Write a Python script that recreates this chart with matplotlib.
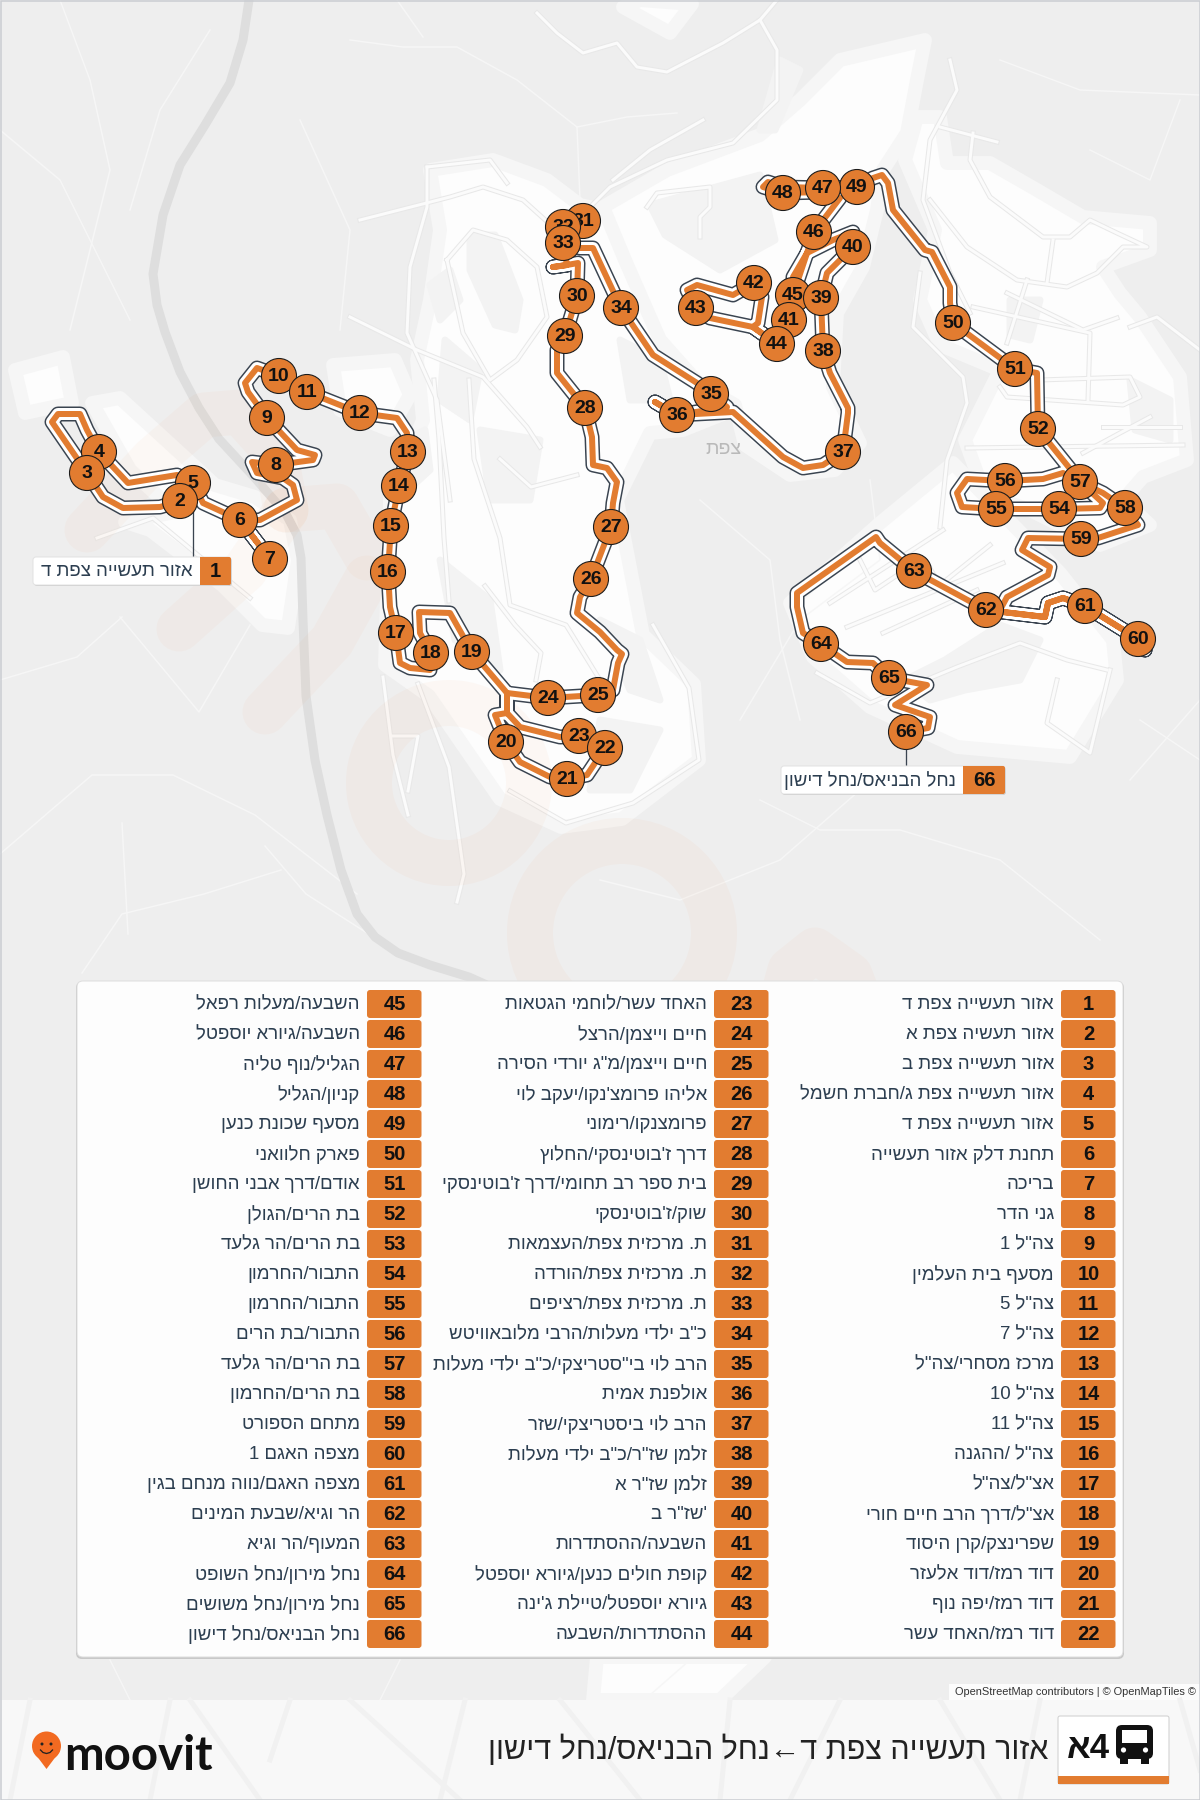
import re
import matplotlib
matplotlib.use('Agg')
from matplotlib import pyplot as plt
from matplotlib.patches import Circle, FancyBboxPatch, Polygon, Rectangle

plt.rcParams['font.family'] = ['Liberation Sans', 'DejaVu Sans']

ORANGE = '#e27c30'
DARK = '#3a4450'
INK = '#2c3e50'
PX = 0.72  # line widths are read in pixels, figure is 100 dpi

stop_names = [
    'אזור תעשייה צפת ד', 'אזור תעשיה צפת א', 'אזור תעשייה צפת ב', 'אזור תעשייה צפת ג/חברת חשמל',
    'אזור תעשייה צפת ד', 'תחנת דלק אזור תעשייה', 'בריכה', 'גני הדר', 'צה"ל 1', 'מסעף בית העלמין',
    'צה"ל 5', 'צה"ל 7', 'מרכז מסחרי/צה"ל', 'צה"ל 10', 'צה"ל 11', 'צה"ל /ההגנה', 'אצ"ל/צה"ל',
    'אצ"ל/דרך הרב חיים חורי', 'שפרינצק/קרן היסוד', 'דוד רמז/דוד אלעזר', 'דוד רמז/יפה נוף', 'דוד רמז/האחד עשר',
    'האחד עשר/לוחמי הגטאות', 'חיים וייצמן/הרצל', 'חיים וייצמן/מ"ג יורדי הסירה', "אליהו פרומצ'נקו/יעקב לוי",
    'פרומצנקו/רימוני', "דרך ז'בוטינסקי/החלוץ", "בית ספר רב תחומי/דרך ז'בוטינסקי", "שוק/ז'בוטינסקי",
    'ת. מרכזית צפת/העצמאות', 'ת. מרכזית צפת/הורדה', 'ת. מרכזית צפת/רציפים', 'כ"ב ילדי מעלות/הרבי מלובאוויטש',
    'הרב לוי בי"סטריצקי/כ"ב ילדי מעלות', 'אולפנת אמית', 'הרב לוי ביסטריצקי/שזר', 'זלמן שז"ר/כ"ב ילדי מעלות',
    'זלמן שז"ר א', '\'שז"ר ב', 'השבעה/ההסתדרות', 'קופת חולים כנען/גיורא יוספטל', "גיורא יוספטל/טיילת ג'ינה",
    'ההסתדרות/השבעה',
    'השבעה/מעלות רפאל', 'השבעה/גיורא יוספטל', 'הגליל/נוף טליה', 'קניון/הגליל', 'מסעף שכונת כנען', 'פארק חלוואני',
    'אודם/דרך אבני החושן', 'בת הרים/הגולן', 'בת הרים/הר גלעד', 'התבור/החרמון', 'התבור/החרמון', 'התבור/בת הרים',
    'בת הרים/הר גלעד', 'בת הרים/החרמון', 'מתחם הספורט', 'מצפה האגם 1', 'מצפה האגם/נווה מנחם בגין',
    'הר וגיא/שבעת המינים', 'המעוף/הר וגיא', 'נחל מירון/נחל השופט', 'נחל מירון/נחל משושים', 'נחל הבניאס/נחל דישון',
]

stop_no = [2, 3, 4, 5, 6, 7, 8, 9, 10, 11, 12, 13, 14, 15, 16, 17, 18, 19, 20, 21, 22, 23, 24, 25, 26, 27, 28, 29, 30,
           31, 32, 33, 34, 35, 36, 37, 38, 39, 40, 41, 42, 43, 44, 45, 46, 47, 48, 49, 50, 51, 52, 54, 55, 56, 57, 58,
           59, 60, 61, 62, 63, 64, 65, 66]
stop_x = [180, 87, 99, 193, 240, 270, 276, 267, 279, 307, 360, 408, 399, 391, 388, 396, 431, 472, 506, 567, 605, 579,
          548, 598, 591, 611, 585, 565, 577, 583, 563, 563, 621, 711, 677, 843, 823, 821, 853, 789, 754, 696, 777, 793,
          814, 823, 783, 857, 953, 1015, 1038, 1059, 996, 1005, 1080, 1125, 1081, 1138, 1085, 986, 914, 821, 889, 906]
stop_y = [501, 473, 452, 483, 520, 559, 465, 418, 376, 392, 413, 452, 486, 526, 572, 633, 653, 652, 742, 779, 748, 736,
          698, 695, 579, 527, 408, 336, 296, 221, 227, 243, 308, 394, 415, 452, 351, 298, 247, 320, 283, 308, 344, 295,
          232, 188, 193, 187, 323, 369, 429, 509, 509, 481, 482, 508, 539, 639, 606, 610, 571, 644, 678, 732]

route_x = [180, 160, 123, 103, 87, 52, 58, 80, 87, 99, 128, 177, 193, 203, 240, 270, 240, 260, 297, 293, 283, 257, 252,
           276, 313, 315, 297, 267, 248, 245, 257, 279, 307, 360, 397, 407, 408, 399, 391, 388, 390, 396, 400, 410, 430,
           431, 420, 419, 450, 472, 507, 507, 495, 506, 520, 550, 567, 587, 605, 579, 560, 520, 507, 507, 548, 598, 613,
           618, 622, 617, 600, 577, 580, 591, 611, 613, 617, 607, 593, 592, 585, 557, 557, 565, 577, 578, 567, 553, 567,
           563, 563, 583, 563, 563, 580, 593, 621, 653, 697, 711, 727, 677, 655, 677, 733, 783, 803, 823, 843, 848, 848,
           830, 823, 821, 827, 853, 853, 833, 807, 793, 793, 789, 777, 753, 710, 696, 687, 697, 733, 754, 762, 758, 753,
           777, 793, 814, 840, 823, 783, 763, 768, 783, 823, 857, 873, 882, 888, 893, 925, 932, 950, 950, 953, 1015, 1037,
           1038, 1075, 1080, 1063, 1043, 1005, 967, 957, 962, 996, 1059, 1100, 1103, 1080, 1103, 1125, 1138, 1098, 1081,
           1028, 1022, 1050, 1048, 1007, 1000, 986, 1003, 1045, 1048, 1063, 1085, 1138, 1145, 1138, 1085, 1063, 1048, 1045,
           1003, 986, 914, 880, 876, 797, 797, 803, 821, 847, 873, 889, 927, 895, 930, 928, 906]
route_y = [501, 507, 508, 497, 473, 422, 414, 414, 430, 452, 483, 475, 483, 503, 520, 559, 520, 520, 500, 485, 478, 473,
           462, 465, 460, 455, 450, 418, 392, 383, 368, 376, 392, 413, 418, 433, 452, 486, 526, 572, 607, 633, 663, 668,
           670, 653, 633, 612, 613, 652, 693, 713, 715, 742, 762, 777, 779, 775, 748, 736, 737, 727, 713, 693, 698, 695,
           690, 663, 654, 650, 632, 613, 597, 579, 527, 503, 482, 468, 465, 437, 408, 373, 350, 336, 296, 263, 265, 267,
           265, 243, 227, 221, 227, 243, 248, 248, 308, 355, 383, 394, 407, 415, 402, 415, 412, 457, 468, 465, 452, 413,
           408, 373, 351, 298, 273, 247, 232, 240, 253, 277, 295, 320, 344, 327, 318, 308, 290, 285, 295, 283, 297, 323,
           327, 344, 295, 232, 198, 192, 193, 187, 182, 187, 188, 187, 178, 175, 183, 210, 250, 252, 287, 303, 323, 369,
           373, 429, 475, 482, 473, 479, 481, 479, 493, 507, 509, 509, 508, 503, 482, 493, 508, 525, 538, 539, 538, 550,
           567, 575, 597, 610, 610, 612, 617, 603, 598, 606, 639, 650, 639, 606, 598, 603, 617, 612, 610, 571, 543, 537,
           593, 607, 633, 644, 662, 663, 678, 685, 705, 717, 728, 732]

city_blobs = [
    [(15, 370), (63, 357), (72, 403), (25, 413)],
    [(92, 403), (120, 398), (215, 485), (255, 497), (290, 520), (298, 560), (288, 628), (262, 625), (222, 585), (150, 530),
     (125, 522), (175, 512), (130, 470)],
    [(430, 170), (493, 160), (547, 180), (580, 205), (617, 213), (670, 300), (743, 353), (733, 410), (683, 430),
     (650, 433), (617, 500), (643, 635), (694, 684), (699, 760), (622, 819), (561, 827), (500, 799), (429, 696), (385, 665),
     (390, 499), (423, 420), (417, 360), (430, 300), (440, 230)],
    [(603, 207), (667, 170), (760, 135), (800, 100), (840, 60), (925, 40), (917, 80), (907, 133), (883, 170), (877, 210),
     (863, 267), (837, 313), (833, 387), (860, 443), (835, 470), (790, 475), (745, 445), (735, 405), (700, 385), (660, 340),
     (625, 260)],
    [(917, 117), (940, 117), (947, 163), (990, 163), (1037, 190), (1083, 217), (1150, 223), (1150, 250), (1103, 267),
     (1120, 293), (1140, 317), (1180, 377), (1187, 460), (1143, 477), (1123, 500), (1150, 525), (1100, 545), (1030, 510),
     (985, 495), (965, 440), (1000, 370), (940, 345), (920, 300), (935, 230), (905, 160)],
    [(880, 523), (953, 463), (1060, 573), (1113, 640), (1117, 680), (1070, 757), (957, 747), (870, 707), (813, 657), (790, 603)],
    [(333, 365), (395, 360), (410, 395), (390, 430), (340, 410)],
    [(623, 7), (670, 33), (692, 4), (640, 0)],
    [(597, 1657), (765, 1657), (720, 1700), (593, 1700)],
]
gray_patches = [
    [(470, 235), (495, 235), (520, 300), (515, 330), (495, 325), (470, 270)],
    [(650, 205), (760, 175), (775, 240), (720, 270), (665, 235)],
    [(1000, 625), (1040, 640), (1020, 680), (965, 690), (930, 700), (905, 680), (945, 660)],
    [(430, 285), (450, 270), (460, 300), (440, 320)],
    [(600, 620), (640, 640), (660, 700), (630, 690)],
    [(405, 440), (425, 430), (430, 470), (408, 490)],
    [(780, 60), (800, 70), (775, 130), (760, 130)],
    [(445, 340), (480, 370), (470, 420), (440, 400)],
    [(480, 430), (540, 440), (530, 500), (490, 500)],
    [(440, 560), (490, 600), (500, 670), (455, 640)],
    [(620, 340), (660, 360), (670, 400), (630, 400)],
    [(1010, 300), (1040, 300), (1030, 340), (1010, 335)],
    [(600, 720), (660, 730), (630, 790), (590, 790)],
    [(1130, 380), (1170, 400), (1170, 440), (1135, 430)],
]

highway = [(249, 0), (243, 40), (230, 83), (205, 125), (180, 165), (163, 215), (153, 274), (157, 305), (165, 332),
           (180, 372), (199, 408), (219, 439), (255, 478), (286, 514), (297, 535), (301, 558), (303, 620), (306, 696),
           (315, 760), (327, 815), (341, 870), (357, 914), (375, 937), (398, 953), (430, 965), (469, 977), (520, 1000)]

main_roads = [
    [(537, 13), (557, 33), (583, 53), (617, 43), (637, 67), (667, 72), (723, 43), (760, 20), (777, 0)],
    [(760, 20), (777, 50), (777, 100), (733, 143), (667, 160), (610, 187), (590, 207)],
    [(703, 120), (650, 150), (613, 180)],
    [(360, 220), (450, 197), (483, 187), (523, 200), (553, 227)],
    [(447, 260), (473, 230), (507, 240), (537, 267), (547, 317), (517, 360), (490, 380), (463, 333), (447, 260)],
    [(427, 167), (427, 207), (410, 267), (407, 333), (437, 400), (450, 500)],
    [(350, 317), (417, 350), (483, 377), (527, 427), (540, 447)],
    [(427, 167), (490, 160), (507, 183)],
    [(647, 207), (657, 193), (710, 187), (710, 207), (700, 217), (700, 237)],
    [(434, 380), (439, 439), (444, 538), (449, 601)],
    [(469, 380), (474, 459), (500, 538), (510, 605), (566, 625), (600, 680)],
    [(500, 459), (531, 487), (577, 475)],
    [(485, 586), (515, 625), (541, 653), (536, 680)],
    [(393, 736), (418, 736), (408, 791)],
    [(383, 677), (393, 755), (408, 815)],
    [(418, 684), (449, 767), (464, 874), (457, 902)],
    [(510, 791), (566, 823), (633, 803), (699, 760), (689, 688), (653, 625)],
    [(97, 538), (153, 518), (250, 598)],
    [(950, 60), (957, 90), (930, 140), (923, 200), (950, 273), (970, 313)],
    [(940, 127), (997, 142)],
    [(973, 133), (970, 160), (990, 197), (1043, 237), (1070, 237), (1090, 220), (1117, 233), (1147, 247), (1123, 247),
     (1097, 273), (1067, 287), (1017, 280), (967, 247), (930, 200)],
    [(1053, 240), (1047, 283)],
    [(1027, 280), (1007, 343)],
    [(1007, 293), (1083, 330), (1117, 318)],
    [(973, 307), (1090, 333), (1088, 400)],
    [(1130, 327), (1157, 317), (1200, 350)],
    [(1040, 380), (1130, 377), (1140, 397), (1123, 405), (1007, 397), (1000, 387)],
    [(920, 273), (913, 327), (963, 377), (967, 403), (947, 460), (940, 527)],
    [(967, 448), (1183, 445)],
    [(1103, 427), (1180, 427)],
    [(1083, 453), (1120, 433), (1150, 417)],
    [(830, 603), (943, 530)],
    [(847, 627), (1003, 563)],
    [(883, 633), (977, 590)],
    [(817, 673), (870, 703), (957, 667), (1020, 643), (1067, 660), (1107, 670)],
    [(1057, 680), (1047, 723), (1090, 753), (1110, 670)],
    [(860, 560), (875, 590), (905, 570), (925, 560), (940, 585), (965, 565), (990, 545)],
]
thin_roads = [
    [(350, 40), (403, 47), (457, 47), (517, 80), (577, 127), (580, 200)],
    [(577, 127), (627, 117), (677, 113)],
    [(397, 0), (423, 37)],
    [(120, 617), (199, 712), (250, 625)],
    [(0, 680), (77, 657), (122, 617)],
    [(0, 854), (92, 775), (173, 775), (255, 815), (357, 894)],
    [(122, 823), (128, 934)],
    [(265, 846), (306, 894), (367, 933)],
    [(82, 973), (122, 914), (204, 894), (281, 870)],
    [(0, 130), (60, 180), (100, 260), (130, 320)],
    [(60, 0), (90, 80), (110, 170), (70, 330)],
    [(210, 30), (160, 110), (130, 210)],
    [(300, 120), (350, 230), (340, 330)],
    [(1000, 60), (1080, 90), (1200, 95)],
    [(1180, 100), (1150, 180), (1090, 150)],
    [(1140, 720), (1200, 760)],
    [(700, 500), (770, 560), (780, 640), (800, 720)],
    [(760, 800), (820, 830), (900, 830), (1000, 860), (1100, 940)],
    [(600, 880), (680, 900), (780, 860), (860, 790)],
    [(1130, 780), (1200, 700)],
    [(870, 480), (880, 560), (800, 620), (740, 720)],
    [(110, 1660), (130, 1700)],
    [(400, 1660), (380, 1700)],
    [(690, 1660), (650, 1695), (700, 1695)],
]

watermark_bands = [
    [(87, 530), (153, 459), (204, 415), (240, 412), (275, 451), (286, 510)],
    [(179, 629), (245, 570), (286, 510)],
    [(286, 510), (337, 506), (367, 558)],
    [(265, 712), (332, 641), (367, 578)],
    [(765, 1060), (790, 970), (815, 950), (850, 975), (890, 1080)],
]
ring_x = [449, 622]
ring_y = [783, 933]
ring_r = [80, 92]

footer_lines = [
    [(30, 1700), (10, 1800)], [(170, 1700), (150, 1800)], [(190, 1700), (260, 1800)], [(290, 1700), (270, 1760)],
    [(350, 1700), (460, 1800)], [(465, 1700), (440, 1800)], [(560, 1700), (640, 1800)], [(730, 1700), (720, 1800)],
    [(840, 1700), (790, 1800)], [(940, 1700), (1000, 1800)], [(1040, 1700), (1020, 1800)], [(1180, 1700), (1200, 1770)],
]

columns = [(1061, 0), (714, 22), (367, 44)]


def visual(s):
    # matplotlib has no bidi, so reverse the hebrew and keep the digit runs readable
    return re.sub(r'[0-9]+', lambda m: m.group()[::-1], s[::-1])


def rbox(ax, x0, y0, x1, y1, fc, ec='none', r=3, z=20, **kw):
    box = FancyBboxPatch((x0 + r, y0 + r), x1 - x0 - 2 * r, y1 - y0 - 2 * r, boxstyle=f'round,pad={r}',
                         fc=fc, ec=ec, lw=PX, zorder=z, **kw)
    ax.add_patch(box)
    return box


fig = plt.figure(figsize=(12, 18), dpi=100, facecolor='#eeeeee')
ax = fig.add_axes([0, 0, 1, 1])
ax.set_xlim(0, 1200)
ax.set_ylim(1800, 0)
ax.axis('off')

for blob in city_blobs:
    ax.add_patch(Polygon(blob, closed=True, fc='#fdfdfd', ec='#f6f6f6', lw=10, joinstyle='round', zorder=1))
for patch in gray_patches:
    ax.add_patch(Polygon(patch, closed=True, fc='#f3f3f3', ec='#f3f3f3', lw=5, joinstyle='round', zorder=1.5))

for road in thin_roads:
    ax.plot(*zip(*road), color='#f6f6f6', lw=1.5 * PX, zorder=2)
for road in main_roads:
    ax.plot(*zip(*road), color='#e8e8e8', lw=5 * PX, zorder=2.1, solid_joinstyle='round')
for road in main_roads:
    ax.plot(*zip(*road), color='#fbfbfb', lw=3 * PX, zorder=2.2, solid_joinstyle='round')
ax.plot(*zip(*highway), color='#dedede', lw=9 * PX, zorder=2.3, solid_joinstyle='round')

for band in watermark_bands:
    ax.plot(*zip(*band), color='#ef7b2d', alpha=0.035, lw=45 * PX, zorder=3, solid_capstyle='round', solid_joinstyle='round')
for x, y, r in zip(ring_x, ring_y, ring_r):
    ax.add_patch(Circle((x, y), r, fc='none', ec='#ef7b2d', alpha=0.04, lw=46 * PX, zorder=3))

ax.text(723, 450, visual('צפת'), fontsize=14, color='#b9b9b9', ha='center', va='center', zorder=4)

# route casing, then the coloured line
ax.plot(route_x, route_y, color=DARK, lw=15 * PX, solid_joinstyle='round', solid_capstyle='round', zorder=5)
ax.plot(route_x, route_y, color='white', lw=12 * PX, solid_joinstyle='round', solid_capstyle='round', zorder=6)
ax.plot(route_x, route_y, color=ORANGE, lw=6 * PX, solid_joinstyle='round', solid_capstyle='round', zorder=7)

# callout leaders sit under the stops
ax.plot([193, 193], [505, 557], color=DARK, lw=1.3 * PX, zorder=7.5)
ax.plot([906, 906], [745, 766], color=DARK, lw=1.3 * PX, zorder=7.5)

# southern stops are painted last, like the tiles
order = sorted(range(len(stop_no)), key=lambda i: stop_y[i])
for rank, i in enumerate(order):
    z = 8 + rank * 0.01
    ax.add_patch(Circle((stop_x[i], stop_y[i]), 17.5, fc=ORANGE, ec='#1c1c1c', lw=1.1 * PX, zorder=z))
    ax.text(stop_x[i], stop_y[i] + 0.5, str(stop_no[i]), fontsize=14, fontweight='bold', color='#111111',
            ha='center', va='center', zorder=z + 0.001)

# callouts
for x0, x1, xo, txt_x, y0, no in [(33, 231, 200, 193, 557, 1), (781, 1005, 963, 956, 766, 66)]:
    rbox(ax, x0 + 1, y0 + 1, x1 + 1, y0 + 29, '#c9c9c9', r=3, z=9)
    rbox(ax, x0, y0, x1, y0 + 28, 'white', ec='#e2e2e2', r=3, z=9.1)
    rbox(ax, xo, y0, x1, y0 + 28, ORANGE, r=2, z=9.2)
    ax.add_patch(Rectangle((xo, y0), 5, 28, fc=ORANGE, ec='none', zorder=9.2))
    ax.text((xo + x1) / 2, y0 + 14.5, str(no), fontsize=14.5, fontweight='bold', color='#111111', ha='center', va='center', zorder=9.3)
    ax.text(txt_x, y0 + 14.5, visual(stop_names[no - 1]), fontsize=13.4, color=INK, ha='right', va='center', zorder=9.3)

# stop list panel
rbox(ax, 76, 982, 1124, 1659, '#c8c8c8', r=6, z=10)
rbox(ax, 77, 981, 1123, 1657, 'white', ec='#dddddd', r=6, z=10.1, alpha=0.97)
for box_x, first in columns:
    for row in range(22):
        no = first + row + 1
        yc = 1004 + row * 30
        rbox(ax, box_x, yc - 14, box_x + 54.5, yc + 14, ORANGE, r=3, z=11)
        ax.text(box_x + 27.5, yc + 0.5, str(no), fontsize=14.5, fontweight='bold', color='#111111',
                ha='center', va='center', zorder=12)
        ax.text(box_x - 7, yc + 0.5, visual(stop_names[no - 1]), fontsize=13.4, color=INK,
                ha='right', va='center', zorder=12)

# attribution
ax.add_patch(Rectangle((949, 1684), 251, 16, fc='white', ec='none', alpha=0.85, zorder=13))
ax.text(1196, 1692, 'OpenStreetMap contributors | © OpenMapTiles ©', fontsize=7.9, color='#333333',
        ha='right', va='center', zorder=14)

# footer
ax.add_patch(Rectangle((0, 1700), 1200, 100, fc='#f8f8f8', ec='none', zorder=15))
for line in footer_lines:
    ax.plot(*zip(*line), color='#f1f1f1', lw=5 * PX, zorder=15.1)
ax.text(1048, 1750, visual('אזור תעשייה צפת ד←נחל הבניאס/נחל דישון'), fontsize=22, color='#222222',
        ha='right', va='center', zorder=16)

rbox(ax, 1058, 1716, 1169, 1784, 'white', ec='#cfcfcf', r=2, z=16)
ax.add_patch(Rectangle((1058, 1776), 111, 8, fc=ORANGE, ec='none', zorder=16.1))
ax.text(1088, 1749, visual('4א'), fontsize=25, fontweight='bold', color='#111111', ha='center', va='center', zorder=16.2)

# bus glyph
rbox(ax, 1116, 1725, 1153, 1759, '#111111', r=6, z=16.2)
ax.add_patch(Rectangle((1122, 1730), 25, 13, fc='white', ec='none', zorder=16.3))
ax.add_patch(Rectangle((1120, 1757), 8, 6.5, fc='#111111', ec='none', zorder=16.2))
ax.add_patch(Rectangle((1141, 1757), 8, 6.5, fc='#111111', ec='none', zorder=16.2))
ax.add_patch(Circle((1123.5, 1750), 2.6, fc='white', ec='none', zorder=16.3))
ax.add_patch(Circle((1145.5, 1750), 2.6, fc='white', ec='none', zorder=16.3))

# moovit logo
ax.add_patch(Circle((46.5, 1746), 14.5, fc='#f26a21', ec='none', zorder=16))
ax.add_patch(Polygon([(33, 1751), (60, 1751), (46.5, 1769)], closed=True, fc='#f26a21', ec='none', zorder=16))
ax.add_patch(Circle((42, 1744), 1.5, fc='#222222', ec='none', zorder=16.1))
ax.add_patch(Circle((51, 1744), 1.5, fc='#222222', ec='none', zorder=16.1))
ax.plot([40.5, 43, 46.5, 50, 52.5], [1750, 1752.5, 1753.5, 1752.5, 1750], color='#222222', lw=1.3 * PX, zorder=16.1)
ax.text(64, 1770, 'moovit', fontsize=34, fontweight='bold', family='Lato', color='#111111', ha='left',
        va='baseline', zorder=16)

# thin frame of the picture
ax.add_patch(Rectangle((0.5, 0.5), 1199, 1799, fc='none', ec='#c9ccd1', lw=1.5 * PX, zorder=30))

fig.savefig('out.png', dpi=100)
